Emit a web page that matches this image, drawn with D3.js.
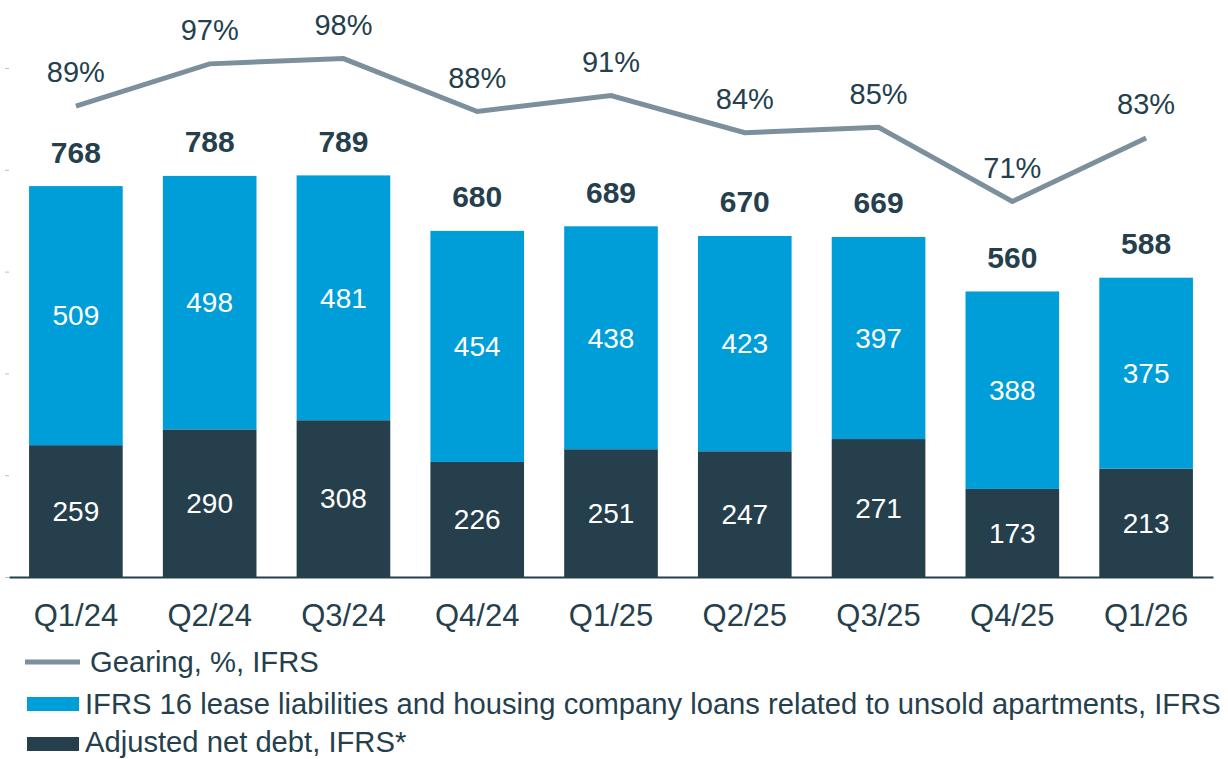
<!DOCTYPE html>
<html>
<head>
<meta charset="utf-8">
<script src="https://cdn.jsdelivr.net/npm/d3@7"></script>
<style>
  body { margin: 0; background: #fff; }
  svg text { font-family: "Liberation Sans", Arial, sans-serif; }
</style>
</head>
<body>
<svg id="chart" width="1228" height="759"></svg>
<script>
const quarters = ["Q1/24", "Q2/24", "Q3/24", "Q4/24", "Q1/25", "Q2/25", "Q3/25", "Q4/25", "Q1/26"];
const netDebt = [259, 290, 308, 226, 251, 247, 271, 173, 213];
const leaseLiab = [509, 498, 481, 454, 438, 423, 397, 388, 375];
const totals = [768, 788, 789, 680, 689, 670, 669, 560, 588];
const gearing = [89, 97, 98, 88, 91, 84, 85, 71, 83];
const yTicks = [0, 200, 400, 600, 800, 1000];

const dark = "#253f4d";
const blue = "#009ed9";
const grey = "#7b909c";

const svg = d3.select("#chart");
const margin = { top: 68, left: 9, right: 15, baseline: 577 };

const x = d3.scaleBand()
    .domain(quarters)
    .range([margin.left, 1228 - margin.right])
    .paddingInner(0.3)
    .paddingOuter(0.15);

const y = d3.scaleLinear()
    .domain([0, 1000])
    .range([margin.baseline, margin.top]);

const y2 = d3.scaleLinear()
    .domain([0, 100])
    .range([margin.baseline, 48]);

// left axis: only small tick marks, no labels
const yAxis = svg.append("g")
    .attr("transform", `translate(${margin.left},0)`)
    .call(d3.axisLeft(y).tickValues(yTicks).tickSize(4).tickFormat(""));
yAxis.select(".domain").remove();
yAxis.selectAll("line").attr("stroke", "#bfbfbf");

const data = quarters.map((q, i) => ({ q, net: netDebt[i], lease: leaseLiab[i], total: totals[i], gear: gearing[i] }));

// stacked bars
svg.selectAll("rect.net")
    .data(data)
    .join("rect")
    .attr("class", "net")
    .attr("x", d => x(d.q))
    .attr("y", d => y(d.net))
    .attr("width", x.bandwidth())
    .attr("height", d => y(0) - y(d.net))
    .attr("fill", dark);

svg.selectAll("rect.lease")
    .data(data)
    .join("rect")
    .attr("class", "lease")
    .attr("x", d => x(d.q))
    .attr("y", d => y(d.net + d.lease))
    .attr("width", x.bandwidth())
    .attr("height", d => y(d.net) - y(d.net + d.lease))
    .attr("fill", blue);

// segment labels
svg.selectAll("text.netLbl")
    .data(data)
    .join("text")
    .attr("x", d => x(d.q) + x.bandwidth() / 2)
    .attr("y", d => (y(0) + y(d.net)) / 2)
    .attr("dy", "0.35em")
    .attr("text-anchor", "middle")
    .attr("font-size", 28)
    .attr("fill", "#fff")
    .text(d => d.net);

svg.selectAll("text.leaseLbl")
    .data(data)
    .join("text")
    .attr("x", d => x(d.q) + x.bandwidth() / 2)
    .attr("y", d => (y(d.net) + y(d.net + d.lease)) / 2)
    .attr("dy", "0.35em")
    .attr("text-anchor", "middle")
    .attr("font-size", 28)
    .attr("fill", "#fff")
    .text(d => d.lease);

// totals above bars
svg.selectAll("text.total")
    .data(data)
    .join("text")
    .attr("x", d => x(d.q) + x.bandwidth() / 2)
    .attr("y", d => y(d.total) - 34)
    .attr("dy", "0.35em")
    .attr("text-anchor", "middle")
    .attr("font-size", 30)
    .attr("font-weight", "bold")
    .attr("fill", dark)
    .text(d => d.total);

// x axis
const xAxis = svg.append("g")
    .attr("transform", `translate(0,${margin.baseline})`)
    .call(d3.axisBottom(x).tickSize(0).tickPadding(27));
xAxis.select(".domain").attr("stroke", dark).attr("stroke-width", 2);
xAxis.selectAll("text")
    .attr("font-size", 31)
    .attr("fill", dark)
    .style("font-family", "Liberation Sans, Arial, sans-serif");

// gearing line
const line = d3.line()
    .x(d => x(d.q) + x.bandwidth() / 2)
    .y(d => y2(d.gear));

svg.append("path")
    .datum(data)
    .attr("d", line)
    .attr("fill", "none")
    .attr("stroke", grey)
    .attr("stroke-width", 5);

svg.selectAll("text.gear")
    .data(data)
    .join("text")
    .attr("x", d => x(d.q) + x.bandwidth() / 2)
    .attr("y", d => y2(d.gear) - 34)
    .attr("dy", "0.35em")
    .attr("text-anchor", "middle")
    .attr("font-size", 29)
    .attr("fill", dark)
    .text(d => d.gear + "%");

// legend
const legend = svg.append("g");
legend.append("line")
    .attr("x1", 25).attr("x2", 80)
    .attr("y1", 662).attr("y2", 662)
    .attr("stroke", grey).attr("stroke-width", 5);
legend.append("text")
    .attr("x", 90).attr("y", 662).attr("dy", "0.35em")
    .attr("font-size", 29.2).attr("fill", dark)
    .text("Gearing, %, IFRS");

legend.append("rect")
    .attr("x", 27).attr("y", 697).attr("width", 52).attr("height", 14)
    .attr("fill", blue);
legend.append("text")
    .attr("x", 85).attr("y", 704).attr("dy", "0.35em")
    .attr("font-size", 29.2).attr("fill", dark)
    .text("IFRS 16 lease liabilities and housing company loans related to unsold apartments, IFRS");

legend.append("rect")
    .attr("x", 27).attr("y", 737).attr("width", 52).attr("height", 14)
    .attr("fill", dark);
legend.append("text")
    .attr("x", 85).attr("y", 742).attr("dy", "0.35em")
    .attr("font-size", 29.2).attr("fill", dark)
    .text("Adjusted net debt, IFRS*");
</script>
</body>
</html>
